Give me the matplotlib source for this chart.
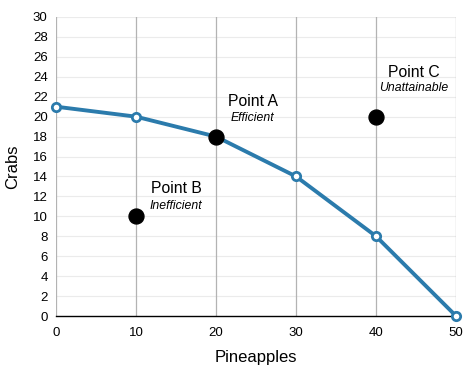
import matplotlib
matplotlib.use("Agg")
import matplotlib.pyplot as plt

plt.rcParams['font.family'] = ['Liberation Sans', 'DejaVu Sans']

pineapples = [0, 10, 20, 30, 40, 50]
crabs = [21, 20, 18, 14, 8, 0]

point_names = ["Point A", "Point B", "Point C"]
point_notes = ["Efficient", "Inefficient", "Unattainable"]
point_x = [20, 10, 40]
point_y = [18, 10, 20]
label_x = [24.6, 15.0, 44.75]
label_y = [21.5, 12.8, 24.4]
note_y = [19.9, 11.0, 22.9]

xticks = [0, 10, 20, 30, 40, 50]
yticks = list(range(0, 31, 2))

fig = plt.figure(figsize=(4.64, 3.66), dpi=100)
ax = fig.add_axes([0.1207, 0.1366, 0.8621, 0.817])

ax.set_xlim(0, 50)
ax.set_ylim(0, 30)
ax.set_xticks(xticks)
ax.set_yticks(yticks)

for y in yticks[1:]:
    ax.axhline(y, color='#ebebeb', lw=0.8, zorder=0)
for x in xticks:
    ax.axvline(x, color='#b3b3b3', lw=0.9, zorder=0.5)

for s in ['top', 'right', 'left']:
    ax.spines[s].set_visible(False)
ax.spines['bottom'].set_color('black')
ax.spines['bottom'].set_linewidth(1.0)
ax.spines['bottom'].set_zorder(1)
ax.tick_params(length=0, labelsize=9.5, pad=6)
ax.tick_params(axis='x', pad=8)

ax.plot(pineapples, crabs, color='#2b7bac', lw=2.8, marker='o', markersize=6,
        markerfacecolor='white', markeredgecolor='#2b7bac', markeredgewidth=2,
        clip_on=False, zorder=3)

ax.scatter(point_x, point_y, s=115, color='black', zorder=4, clip_on=False)

for name, note, lx, ly, ny in zip(point_names, point_notes, label_x, label_y, note_y):
    ax.text(lx, ly, name, ha='center', va='center', fontsize=11.3)
    ax.text(lx, ny, note, ha='center', va='center', fontsize=8.8, style='italic')

ax.set_xlabel('Pineapples', fontsize=12, labelpad=8)
ax.set_ylabel('Crabs', fontsize=12, labelpad=9)

fig.savefig('out.png', dpi=100)
